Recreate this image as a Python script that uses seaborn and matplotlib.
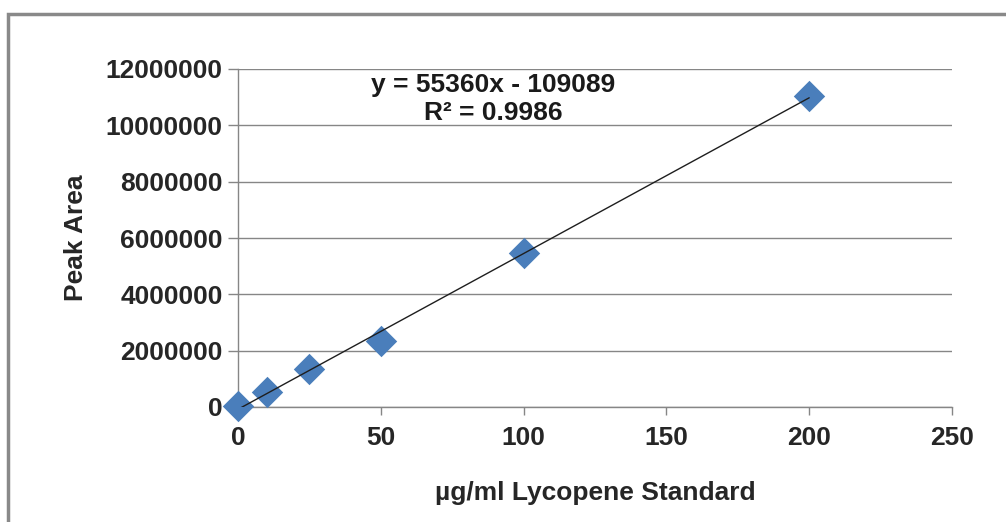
import matplotlib
matplotlib.use("Agg")
import matplotlib.pyplot as plt
import seaborn as sns
import pandas as pd
from matplotlib.patches import Rectangle

conc = [0, 10, 25, 50, 100, 200]
peak_area = [50000, 550000, 1350000, 2350000, 5450000, 11050000]
x_ticks = [0, 50, 100, 150, 200, 250]
y_ticks = [0, 2000000, 4000000, 6000000, 8000000, 10000000, 12000000]
equation = "y = 55360x - 109089"
r2_text = "R² = 0.9986"
x_label = "µg/ml Lycopene Standard"
y_label = "Peak Area"

df = pd.DataFrame({"conc": conc, "area": peak_area})

sns.set_style("white")
plt.rcParams["font.family"] = ["Liberation Sans", "DejaVu Sans"]
plt.rcParams["font.weight"] = "bold"

W, H = 1006, 522
fig = plt.figure(figsize=(W / 100, H / 100), dpi=100)
ax = fig.add_axes([238 / W, 1 - 407 / H, (952 - 238) / W, (407 - 69) / H])

grid_c = "#868686"
fs = 19
ax.set_xlim(0, 250)
ax.set_ylim(0, 12000000)
ax.set_yticks(y_ticks)
ax.set_xticks(x_ticks)
ax.yaxis.grid(True, color=grid_c, lw=1)
ax.set_axisbelow(True)

sns.regplot(data=df, x="conc", y="area", ax=ax, ci=None, truncate=True, marker="D",
            scatter_kws=dict(s=16 ** 2, color="#4A7EBB", alpha=1, linewidths=0, zorder=3, clip_on=False),
            line_kws=dict(color="#1e1e1e", lw=1, zorder=4))

ax.set_yticklabels([str(v) for v in y_ticks], fontsize=fs, fontweight="bold")
ax.set_xticklabels([str(v) for v in x_ticks], fontsize=fs, fontweight="bold")
ax.tick_params(axis="y", direction="out", length=7, width=1, color=grid_c, pad=4, left=True)
ax.tick_params(axis="x", direction="out", length=6, width=1, color=grid_c, pad=8, bottom=True)

for s in ["top", "right"]:
    ax.spines[s].set_visible(False)
for s in ["left", "bottom"]:
    ax.spines[s].set_color(grid_c)
    ax.spines[s].set_linewidth(1)

ax.set_xlabel(x_label, fontsize=fs, fontweight="bold", labelpad=22)
ax.set_ylabel(y_label, fontsize=fs, fontweight="bold", labelpad=13)

ax.text(89.3, 11430000, equation, ha="center", va="center", fontsize=fs, fontweight="bold", color="#1a1a1a")
ax.text(89.3, 10440000, r2_text, ha="center", va="center", fontsize=fs, fontweight="bold", color="#1a1a1a")

fig.patches.append(Rectangle((8 / W, -0.1), 1.2, (1 - 14 / H) + 0.1, transform=fig.transFigure,
                             fill=False, edgecolor="#898989", lw=2.5, clip_on=False))

fig.savefig("out.png", dpi=100, facecolor="white")
